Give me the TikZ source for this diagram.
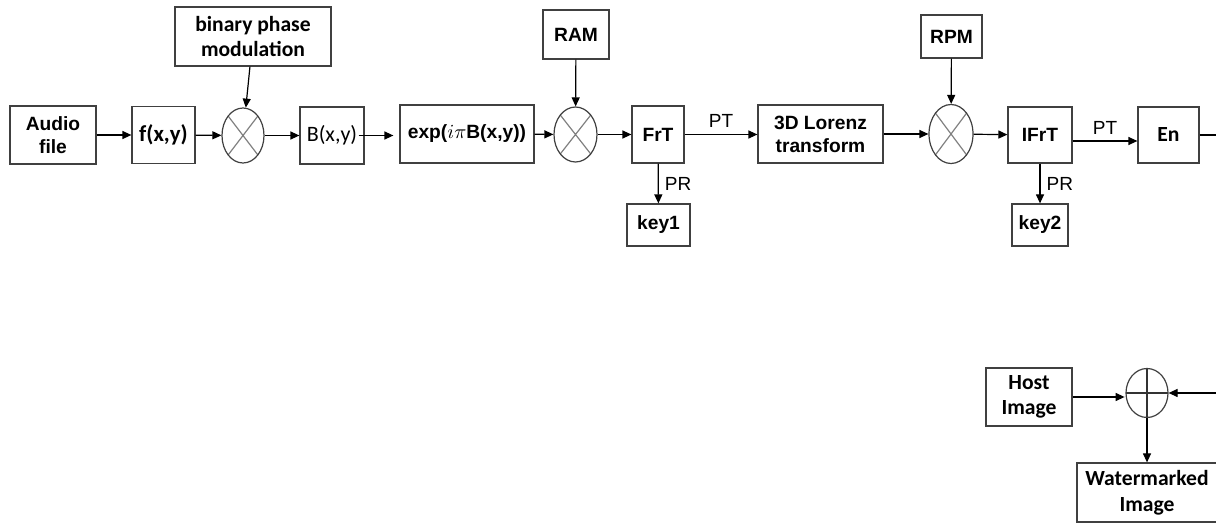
\documentclass[tikz,border=0pt]{standalone}
\usepackage{fontspec}
\setmainfont{Liberation Sans}
\newfontfamily\calfont{Carlito}
\usetikzlibrary{arrows.meta,shapes.geometric}

\tikzset{
  blk/.style={draw=black!75, line width=0.6pt, inner sep=0pt, align=center,
    font=\bfseries\fontsize{9.6}{11.5}\selectfont},
  cblk/.style={blk, font=\calfont\bfseries\fontsize{10.8}{12.8}\selectfont},
  mixer/.style={ellipse, draw=black!75, line width=0.6pt, inner sep=0pt,
    path picture={\draw[black!50, line width=0.6pt]
      (path picture bounding box.north west) -- (path picture bounding box.south east)
      (path picture bounding box.north east) -- (path picture bounding box.south west);}},
  adder/.style={ellipse, draw=black!75, line width=0.6pt, inner sep=0pt,
    path picture={\draw[black!80, line width=0.6pt]
      (path picture bounding box.north) -- (path picture bounding box.south)
      (path picture bounding box.west) -- (path picture bounding box.east);}},
  lbl/.style={font=\fontsize{9.5}{11}\selectfont, inner sep=3pt}
}

\begin{document}
\begin{tikzpicture}[x=0.5pt, y=-0.5pt, >={Triangle[length=4.5pt,width=4pt]},
    line width=0.6pt]
  \path[use as bounding box, clip] (0,0) rectangle (1216,523);

  \node[blk, minimum width=43pt, minimum height=29pt] (audio) at (53,135) {Audio\\file};
  \node[cblk, minimum width=31.5pt, minimum height=28.5pt, font=\calfont\bfseries\fontsize{11.4}{13}\selectfont] (fxy) at (163.5,135) {f(x,y)};
  \node[cblk, minimum width=78pt, minimum height=29.5pt] (bpm) at (253,36.5) {binary phase\\modulation};
  \node[mixer, minimum width=21pt, minimum height=27.5pt] (mul1) at (243,135.5) {};
  \node[blk, minimum width=32pt, minimum height=28.5pt, font=\calfont\fontsize{11}{13}\selectfont] (bxy) at (332,135.5) {B(x,y)};
  \node[blk, minimum width=67pt, minimum height=29pt] (expb) at (467,134) {exp($i\pi$B(x,y))};
  \node[blk, minimum width=33pt, minimum height=24.5pt] (ram) at (576,34.5) {RAM};
  \node[mixer, minimum width=21.5pt, minimum height=27.5pt] (mul2) at (575.5,134.5) {};
  \node[blk, minimum width=26pt, minimum height=28.5pt] (frt) at (658,134.5) {FrT};
  \node[blk, minimum width=31.5pt, minimum height=21pt] (key1) at (658.5,225) {key1};
  \node[blk, minimum width=62.5pt, minimum height=29pt] (lor) at (820.5,134) {3D Lorenz\\transform};
  \node[blk, minimum width=30.5pt, minimum height=21.5pt] (rpm) at (951.5,36.5) {RPM};
  \node[mixer, minimum width=22pt, minimum height=29.5pt] (mul3) at (951,134) {};
  \node[blk, minimum width=32pt, minimum height=28pt] (ifrt) at (1040,135) {IFrT};
  \node[blk, minimum width=28pt, minimum height=21pt] (key2) at (1040,225) {key2};
  \node[cblk, minimum width=30.5pt, minimum height=28pt] (en) at (1168.5,135) {En};
  \node[cblk, minimum width=43pt, minimum height=29pt] (host) at (1029,397) {Host\\Image};
  \node[adder, minimum width=21pt, minimum height=24.5pt] (add) at (1147,393) {};
  \node[cblk, minimum width=70pt, minimum height=29.5pt] (wm) at (1147,492.5) {Watermarked\\Image};
  \coordinate (back) at (1240,135);

  \draw[->] (audio) -- (fxy);
  \draw[->] (fxy) -- (mul1);
  \draw[->] (bpm) -- (mul1);
  \draw[->] (mul1) -- (bxy);
  \draw[->] ([xshift=-3pt]bxy.east) -- ([xshift=-3pt]bxy.east -| expb.west);
  \draw[->] (expb) -- (mul2);
  \draw[->] (ram) -- (mul2);
  \draw[->] (mul2) -- (frt);
  \draw[->] (frt) -- node[lbl, above]{PT} (frt -| lor.west);
  \draw[->] (frt) -- node[lbl, right]{PR} (key1);
  \draw[->] (lor) -- (mul3);
  \draw[->] (rpm) -- (mul3);
  \draw[->] (mul3) -- (ifrt);
  \draw[->] ([yshift=-3pt]ifrt.east) -- node[lbl, above]{PT} ([yshift=-3pt]en.west);
  \draw[->] (ifrt) -- node[lbl, right]{PR} (key2);
  \draw[->] (en.east) -- (back) |- (add.east);
  \draw[->] (host.east) -- ([xshift=-0.4pt]host.east -| add.west);
  \draw[->] (add) -- (wm);
\end{tikzpicture}
\end{document}
